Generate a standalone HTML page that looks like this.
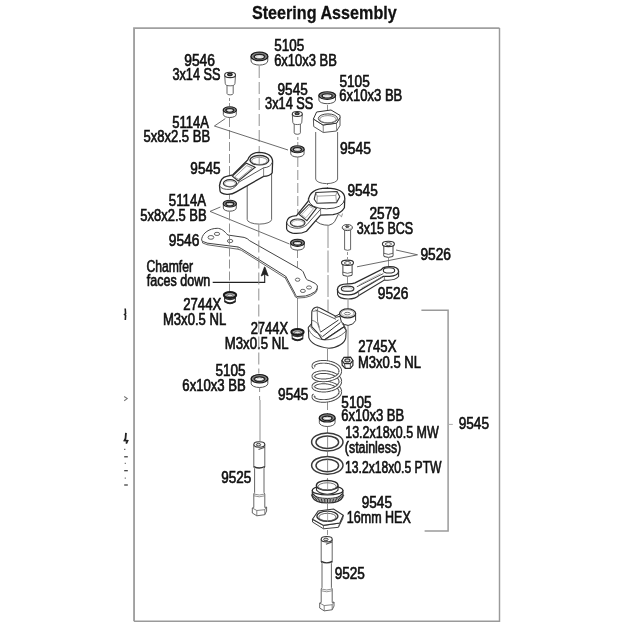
<!DOCTYPE html>
<html><head><meta charset="utf-8"><style>
html,body{margin:0;padding:0;background:#fff;width:625px;height:625px;overflow:hidden}
svg{display:block;will-change:transform}
text{font-family:"Liberation Sans",sans-serif}
</style></head><body>
<svg width="625" height="625" viewBox="0 0 625 625">
<rect width="625" height="625" fill="#fff"/>
<path d="M134.05,621.3 L134.05,28.1 L499.5,28.1" fill="none" stroke="#a0a0a0" stroke-width="1.9"/>
<path d="M499.5,28.1 L499.5,621.3 L134.05,621.3" fill="none" stroke="#9a9a9a" stroke-width="1.45"/>
<text transform="translate(251.93,19.20) scale(0.8414,1)" font-size="19.2" font-weight="bold" fill="#111" stroke="#111" stroke-width="0.3">Steering Assembly</text>
<line x1="229.5" y1="98" x2="229.5" y2="106" stroke="#858585" stroke-width="0.9" stroke-dasharray="3,2"/>
<line x1="229.5" y1="118" x2="229.5" y2="200" stroke="#858585" stroke-width="0.9" stroke-dasharray="9,3"/>
<line x1="259.2" y1="66" x2="259.2" y2="153" stroke="#858585" stroke-width="0.9" stroke-dasharray="12,4"/>
<line x1="259.6" y1="387" x2="259.6" y2="400" stroke="#858585" stroke-width="0.9" stroke-dasharray="5,4"/>
<line x1="260" y1="400" x2="260" y2="441" stroke="#858585" stroke-width="0.9"/>
<line x1="297.8" y1="137" x2="297.8" y2="145" stroke="#858585" stroke-width="0.9" stroke-dasharray="3,2"/>
<line x1="297.8" y1="157" x2="297.8" y2="216" stroke="#858585" stroke-width="0.9" stroke-dasharray="10,3"/>
<line x1="297.5" y1="250" x2="297.5" y2="279" stroke="#858585" stroke-width="0.9" stroke-dasharray="8,3"/>
<line x1="297.5" y1="282" x2="297.5" y2="328" stroke="#858585" stroke-width="0.9"/>
<line x1="327.5" y1="105" x2="327.5" y2="111" stroke="#858585" stroke-width="0.9"/>
<line x1="327.5" y1="182" x2="327.5" y2="190" stroke="#858585" stroke-width="0.9" stroke-dasharray="3,2"/>
<line x1="328" y1="226" x2="328" y2="312" stroke="#858585" stroke-width="0.9" stroke-dasharray="22,2.5"/>
<line x1="327.5" y1="349" x2="327.5" y2="361" stroke="#858585" stroke-width="0.9"/>
<line x1="327.5" y1="400" x2="327.5" y2="535" stroke="#858585" stroke-width="0.9" stroke-dasharray="10,3"/>
<line x1="347.5" y1="252" x2="347.5" y2="259" stroke="#858585" stroke-width="0.9" stroke-dasharray="3,2"/>
<line x1="347.5" y1="277" x2="347.5" y2="284" stroke="#858585" stroke-width="0.9"/>
<line x1="348" y1="300" x2="348" y2="310" stroke="#858585" stroke-width="0.9"/>
<line x1="348" y1="325" x2="348" y2="357" stroke="#858585" stroke-width="0.9"/>
<line x1="388.5" y1="258" x2="388.5" y2="267" stroke="#858585" stroke-width="0.9"/>
<line x1="214.4" y1="126" x2="225.3" y2="118.6" stroke="#5a5a5a" stroke-width="0.9"/>
<line x1="214.4" y1="126" x2="288" y2="150" stroke="#5a5a5a" stroke-width="0.9"/>
<line x1="210" y1="211.4" x2="220.4" y2="207" stroke="#5a5a5a" stroke-width="0.9"/>
<line x1="210" y1="211.4" x2="289.5" y2="244" stroke="#5a5a5a" stroke-width="0.9"/>
<line x1="417.5" y1="254.8" x2="396" y2="250" stroke="#5a5a5a" stroke-width="0.9"/>
<line x1="417.5" y1="254.8" x2="357" y2="266.8" stroke="#5a5a5a" stroke-width="0.9"/>
<path d="M212.7,282.4 L264.7,282.4 L264.7,272" stroke="#222" stroke-width="1.1" fill="none" />
<path d="M264.7,266.5 L261.2,276 L264.7,274 L268.2,276 Z" stroke="#222" stroke-width="0.8" fill="#222" />
<path d="M421.4,310.2 L448.1,310.2 L448.1,531 L424.6,531" stroke="#9a9a9a" stroke-width="1.5" fill="none" />
<line x1="448.8" y1="424.4" x2="452.8" y2="424.4" stroke="#aaa" stroke-width="1.0"/>
<text transform="translate(184.25,65.80) scale(0.8750,1)" font-size="15.8" font-weight="normal" fill="#111" stroke="#111" stroke-width="0.65">9546</text>
<text transform="translate(172.42,80.00) scale(0.8048,1)" font-size="15.8" font-weight="normal" fill="#111" stroke="#111" stroke-width="0.65">3x14 SS</text>
<text transform="translate(274.26,50.90) scale(0.8507,1)" font-size="15.8" font-weight="normal" fill="#111" stroke="#111" stroke-width="0.65">5105</text>
<text transform="translate(274.14,66.00) scale(0.8211,1)" font-size="15.8" font-weight="normal" fill="#111" stroke="#111" stroke-width="0.65">6x10x3 BB</text>
<text transform="translate(277.56,95.40) scale(0.8594,1)" font-size="15.8" font-weight="normal" fill="#111" stroke="#111" stroke-width="0.65">9545</text>
<text transform="translate(265.11,109.20) scale(0.8082,1)" font-size="15.8" font-weight="normal" fill="#111" stroke="#111" stroke-width="0.65">3x14 SS</text>
<text transform="translate(339.45,86.70) scale(0.8626,1)" font-size="15.8" font-weight="normal" fill="#111" stroke="#111" stroke-width="0.65">5105</text>
<text transform="translate(339.34,101.00) scale(0.8237,1)" font-size="15.8" font-weight="normal" fill="#111" stroke="#111" stroke-width="0.65">6x10x3 BB</text>
<text transform="translate(172.28,127.90) scale(0.8240,1)" font-size="15.8" font-weight="normal" fill="#111" stroke="#111" stroke-width="0.65">5114A</text>
<text transform="translate(143.48,142.00) scale(0.8256,1)" font-size="15.8" font-weight="normal" fill="#111" stroke="#111" stroke-width="0.65">5x8x2.5 BB</text>
<text transform="translate(190.36,174.00) scale(0.8594,1)" font-size="15.8" font-weight="normal" fill="#111" stroke="#111" stroke-width="0.65">9545</text>
<text transform="translate(339.95,154.00) scale(0.8801,1)" font-size="15.8" font-weight="normal" fill="#111" stroke="#111" stroke-width="0.65">9545</text>
<text transform="translate(347.46,196.20) scale(0.8624,1)" font-size="15.8" font-weight="normal" fill="#111" stroke="#111" stroke-width="0.65">9545</text>
<text transform="translate(168.87,206.00) scale(0.8351,1)" font-size="15.8" font-weight="normal" fill="#111" stroke="#111" stroke-width="0.65">5114A</text>
<text transform="translate(140.28,220.70) scale(0.8218,1)" font-size="15.8" font-weight="normal" fill="#111" stroke="#111" stroke-width="0.65">5x8x2.5 BB</text>
<text transform="translate(369.51,218.90) scale(0.8659,1)" font-size="15.8" font-weight="normal" fill="#111" stroke="#111" stroke-width="0.65">2579</text>
<text transform="translate(356.82,233.50) scale(0.7936,1)" font-size="15.8" font-weight="normal" fill="#111" stroke="#111" stroke-width="0.65">3x15 BCS</text>
<text transform="translate(168.75,246.00) scale(0.8720,1)" font-size="15.8" font-weight="normal" fill="#111" stroke="#111" stroke-width="0.65">9546</text>
<text transform="translate(420.46,260.40) scale(0.8691,1)" font-size="15.8" font-weight="normal" fill="#111" stroke="#111" stroke-width="0.65">9526</text>
<text transform="translate(146.38,271.80) scale(0.7695,1)" font-size="15.8" font-weight="normal" fill="#111" stroke="#111" stroke-width="0.65">Chamfer</text>
<text transform="translate(146.82,286.10) scale(0.7931,1)" font-size="15.8" font-weight="normal" fill="#111" stroke="#111" stroke-width="0.65">faces down</text>
<text transform="translate(377.76,299.20) scale(0.8691,1)" font-size="15.8" font-weight="normal" fill="#111" stroke="#111" stroke-width="0.65">9526</text>
<text transform="translate(183.14,309.60) scale(0.8348,1)" font-size="15.8" font-weight="normal" fill="#111" stroke="#111" stroke-width="0.65">2744X</text>
<text transform="translate(162.93,325.30) scale(0.8286,1)" font-size="15.8" font-weight="normal" fill="#111" stroke="#111" stroke-width="0.65">M3x0.5 NL</text>
<text transform="translate(250.65,333.60) scale(0.8191,1)" font-size="15.8" font-weight="normal" fill="#111" stroke="#111" stroke-width="0.65">2744X</text>
<text transform="translate(224.82,348.80) scale(0.8340,1)" font-size="15.8" font-weight="normal" fill="#111" stroke="#111" stroke-width="0.65">M3x0.5 NL</text>
<text transform="translate(358.34,351.80) scale(0.8348,1)" font-size="15.8" font-weight="normal" fill="#111" stroke="#111" stroke-width="0.65">2745X</text>
<text transform="translate(357.93,368.00) scale(0.8260,1)" font-size="15.8" font-weight="normal" fill="#111" stroke="#111" stroke-width="0.65">M3x0.5 NL</text>
<text transform="translate(215.46,375.60) scale(0.8567,1)" font-size="15.8" font-weight="normal" fill="#111" stroke="#111" stroke-width="0.65">5105</text>
<text transform="translate(182.33,390.50) scale(0.8318,1)" font-size="15.8" font-weight="normal" fill="#111" stroke="#111" stroke-width="0.65">6x10x3 BB</text>
<text transform="translate(278.06,399.50) scale(0.8624,1)" font-size="15.8" font-weight="normal" fill="#111" stroke="#111" stroke-width="0.65">9545</text>
<text transform="translate(341.36,407.60) scale(0.8596,1)" font-size="15.8" font-weight="normal" fill="#111" stroke="#111" stroke-width="0.65">5105</text>
<text transform="translate(341.14,421.30) scale(0.8251,1)" font-size="15.8" font-weight="normal" fill="#111" stroke="#111" stroke-width="0.65">6x10x3 BB</text>
<text transform="translate(345.25,438.30) scale(0.7886,1)" font-size="15.8" font-weight="normal" fill="#111" stroke="#111" stroke-width="0.65">13.2x18x0.5 MW</text>
<text transform="translate(344.83,452.60) scale(0.7839,1)" font-size="15.8" font-weight="normal" fill="#111" stroke="#111" stroke-width="0.65">(stainless)</text>
<text transform="translate(458.66,429.20) scale(0.8624,1)" font-size="15.8" font-weight="normal" fill="#111" stroke="#111" stroke-width="0.65">9545</text>
<text transform="translate(345.07,472.60) scale(0.7690,1)" font-size="15.8" font-weight="normal" fill="#111" stroke="#111" stroke-width="0.65">13.2x18x0.5 PTW</text>
<text transform="translate(221.37,483.20) scale(0.8535,1)" font-size="15.8" font-weight="normal" fill="#111" stroke="#111" stroke-width="0.65">9525</text>
<text transform="translate(361.76,508.00) scale(0.8594,1)" font-size="15.8" font-weight="normal" fill="#111" stroke="#111" stroke-width="0.65">9545</text>
<text transform="translate(346.85,523.30) scale(0.7913,1)" font-size="15.8" font-weight="normal" fill="#111" stroke="#111" stroke-width="0.65">16mm HEX</text>
<text transform="translate(334.66,579.10) scale(0.8594,1)" font-size="15.8" font-weight="normal" fill="#111" stroke="#111" stroke-width="0.65">9525</text>
<path d="M251.04999999999998,56.4 L251.04999999999998,60.949999999999996 A8.35,4.15 0 0 0 267.75,60.949999999999996 L267.75,56.4" stroke="#555" stroke-width="1" fill="#fff" />
<ellipse cx="259.4" cy="56.4" rx="8.35" ry="4.15" stroke="#1a1a1a" stroke-width="1.5" fill="#6a6a6a"/>
<ellipse cx="259.4" cy="56.4" rx="7.180999999999999" ry="3.3200000000000003" stroke="#b0b0b0" stroke-width="0.6" fill="none"/>
<ellipse cx="259.4" cy="56.699999999999996" rx="5.01" ry="2.3240000000000003" stroke="#222" stroke-width="1.3" fill="#fff"/>
<ellipse cx="259.4" cy="57.0" rx="3.173" ry="1.245" stroke="#aaa" stroke-width="0.6" fill="none"/>
<path d="M318.9,95.60000000000001 L318.9,100.05 A8.3,3.6500000000000004 0 0 0 335.5,100.05 L335.5,95.60000000000001" stroke="#555" stroke-width="1" fill="#fff" />
<ellipse cx="327.2" cy="95.60000000000001" rx="8.3" ry="3.6500000000000004" stroke="#1a1a1a" stroke-width="1.5" fill="#6a6a6a"/>
<ellipse cx="327.2" cy="95.60000000000001" rx="7.138000000000001" ry="2.9200000000000004" stroke="#b0b0b0" stroke-width="0.6" fill="none"/>
<ellipse cx="327.2" cy="95.9" rx="4.98" ry="2.0440000000000005" stroke="#222" stroke-width="1.3" fill="#fff"/>
<ellipse cx="327.2" cy="96.2" rx="3.1540000000000004" ry="1.095" stroke="#aaa" stroke-width="0.6" fill="none"/>
<path d="M251.2,378.8 L251.2,383.55 A8.3,3.95 0 0 0 267.8,383.55 L267.8,378.8" stroke="#555" stroke-width="1" fill="#fff" />
<ellipse cx="259.5" cy="378.8" rx="8.3" ry="3.95" stroke="#1a1a1a" stroke-width="1.5" fill="#6a6a6a"/>
<ellipse cx="259.5" cy="378.8" rx="7.138000000000001" ry="3.16" stroke="#b0b0b0" stroke-width="0.6" fill="none"/>
<ellipse cx="259.5" cy="379.1" rx="4.98" ry="2.212" stroke="#222" stroke-width="1.3" fill="#fff"/>
<ellipse cx="259.5" cy="379.40000000000003" rx="3.1540000000000004" ry="1.185" stroke="#aaa" stroke-width="0.6" fill="none"/>
<path d="M319.34999999999997,417.95 L319.34999999999997,422.6 A7.85,3.9000000000000004 0 0 0 335.05,422.6 L335.05,417.95" stroke="#555" stroke-width="1" fill="#fff" />
<ellipse cx="327.2" cy="417.95" rx="7.85" ry="3.9000000000000004" stroke="#1a1a1a" stroke-width="1.5" fill="#6a6a6a"/>
<ellipse cx="327.2" cy="417.95" rx="6.7509999999999994" ry="3.1200000000000006" stroke="#b0b0b0" stroke-width="0.6" fill="none"/>
<ellipse cx="327.2" cy="418.25" rx="4.71" ry="2.1840000000000006" stroke="#222" stroke-width="1.3" fill="#fff"/>
<ellipse cx="327.2" cy="418.55" rx="2.983" ry="1.1700000000000002" stroke="#aaa" stroke-width="0.6" fill="none"/>
<path d="M223.35000000000002,110.05 L223.35000000000002,114.5 A6.45,3.0 0 0 0 236.25,114.5 L236.25,110.05" stroke="#555" stroke-width="1" fill="#fff" />
<ellipse cx="229.8" cy="110.05" rx="6.45" ry="3.0" stroke="#1a1a1a" stroke-width="1.5" fill="#6a6a6a"/>
<ellipse cx="229.8" cy="110.05" rx="5.547" ry="2.4000000000000004" stroke="#b0b0b0" stroke-width="0.6" fill="none"/>
<ellipse cx="229.8" cy="110.35" rx="3.87" ry="1.6800000000000002" stroke="#222" stroke-width="1.3" fill="#fff"/>
<ellipse cx="229.8" cy="110.64999999999999" rx="2.451" ry="0.8999999999999999" stroke="#aaa" stroke-width="0.6" fill="none"/>
<path d="M290.75,149.25 L290.75,153.7 A6.65,3.3 0 0 0 304.04999999999995,153.7 L304.04999999999995,149.25" stroke="#555" stroke-width="1" fill="#fff" />
<ellipse cx="297.4" cy="149.25" rx="6.65" ry="3.3" stroke="#1a1a1a" stroke-width="1.5" fill="#6a6a6a"/>
<ellipse cx="297.4" cy="149.25" rx="5.719" ry="2.64" stroke="#b0b0b0" stroke-width="0.6" fill="none"/>
<ellipse cx="297.4" cy="149.55" rx="3.99" ry="1.848" stroke="#222" stroke-width="1.3" fill="#fff"/>
<ellipse cx="297.4" cy="149.85" rx="2.527" ry="0.9899999999999999" stroke="#aaa" stroke-width="0.6" fill="none"/>
<path d="M223.35000000000002,203.70000000000002 L223.35000000000002,208.04999999999998 A6.45,3.15 0 0 0 236.25,208.04999999999998 L236.25,203.70000000000002" stroke="#555" stroke-width="1" fill="#fff" />
<ellipse cx="229.8" cy="203.70000000000002" rx="6.45" ry="3.15" stroke="#1a1a1a" stroke-width="1.5" fill="#6a6a6a"/>
<ellipse cx="229.8" cy="203.70000000000002" rx="5.547" ry="2.52" stroke="#b0b0b0" stroke-width="0.6" fill="none"/>
<ellipse cx="229.8" cy="204.00000000000003" rx="3.87" ry="1.764" stroke="#222" stroke-width="1.3" fill="#fff"/>
<ellipse cx="229.8" cy="204.3" rx="2.451" ry="0.945" stroke="#aaa" stroke-width="0.6" fill="none"/>
<path d="M290.75,242.85000000000002 L290.75,246.79999999999998 A6.75,3.3 0 0 0 304.25,246.79999999999998 L304.25,242.85000000000002" stroke="#555" stroke-width="1" fill="#fff" />
<ellipse cx="297.5" cy="242.85000000000002" rx="6.75" ry="3.3" stroke="#1a1a1a" stroke-width="1.5" fill="#6a6a6a"/>
<ellipse cx="297.5" cy="242.85000000000002" rx="5.805" ry="2.64" stroke="#b0b0b0" stroke-width="0.6" fill="none"/>
<ellipse cx="297.5" cy="243.15000000000003" rx="4.05" ry="1.848" stroke="#222" stroke-width="1.3" fill="#fff"/>
<ellipse cx="297.5" cy="243.45000000000002" rx="2.565" ry="0.9899999999999999" stroke="#aaa" stroke-width="0.6" fill="none"/>
<path d="M227.0,83.4 L227.0,93.4 Q227.0,94.9 230.1,94.9 Q233.2,94.9 233.2,93.4 L233.2,83.4" stroke="#555" stroke-width="0.9" fill="#fff" />
<path d="M224.7,74.9 L225.23999999999998,83.4 A4.86,2.43 0 0 0 234.96,83.4 L235.5,74.9" stroke="#555" stroke-width="0.9" fill="#fff" />
<ellipse cx="230.1" cy="74.9" rx="5.4" ry="2.7" stroke="#333" stroke-width="1.1" fill="#fff"/>
<ellipse cx="229.9" cy="74.5" rx="2.2680000000000002" ry="1.215" stroke="#222" stroke-width="1.2" fill="#666"/>
<path d="M294.2,122.3 L294.2,132.8 Q294.2,134.3 297.3,134.3 Q300.40000000000003,134.3 300.40000000000003,132.8 L300.40000000000003,122.3" stroke="#555" stroke-width="0.9" fill="#fff" />
<path d="M292.3,114.0 L292.8,122.3 A4.5,2.25 0 0 0 301.8,122.3 L302.3,114.0" stroke="#555" stroke-width="0.9" fill="#fff" />
<ellipse cx="297.3" cy="114.0" rx="5.0" ry="2.5" stroke="#333" stroke-width="1.1" fill="#fff"/>
<ellipse cx="297.1" cy="113.6" rx="2.1" ry="1.125" stroke="#222" stroke-width="1.2" fill="#666"/>
<path d="M315.7,132 L315.7,179 A10.9,4.6 0 0 0 337.6,179 L337.6,132" stroke="#555" stroke-width="0.9" fill="#fff" />
<path d="M313.4,119 L313.7,126.5 L323.3,132.5 L336.6,131 L340,125.5 L340,117.6 L336.5,123.2 L323.0,125.0 Z" stroke="#444" stroke-width="0.9" fill="#fff" />
<line x1="323.2" y1="125.0" x2="323.3" y2="132.5" stroke="#666" stroke-width="0.8"/>
<line x1="336.5" y1="123.2" x2="336.6" y2="131" stroke="#666" stroke-width="0.8"/>
<path d="M313.4,119 L316.6,112 L331,110 L340,115.4 L340,117.6 L336.5,123.2 L323.0,125.0 Z" stroke="#333" stroke-width="1" fill="#fff" />
<ellipse cx="327.9" cy="118.5" rx="9.6" ry="4.6" stroke="#444" stroke-width="1" fill="#fff"/>
<ellipse cx="327.9" cy="119.2" rx="8.2" ry="3.6" stroke="#777" stroke-width="0.8" fill="none"/>
<path d="M247.2,168 L247.2,219.5 A12.2,4.6 0 0 0 271.6,219.5 L271.6,168" stroke="#555" stroke-width="0.9" fill="#fff" />
<path d="M219.5,185.7 Q220.5,177.5 226.5,176.3 L232.9,174.8 L247.7,159.9 Q250.5,152.5 258.7,152.3 Q272.6,152.8 272.6,161.9 L272.2,172.8 Q269.5,176.2 263.6,176.4 L236.3,191.9 Q232,194.6 226.9,194.3 Q220,193.5 220,190.7 Z" stroke="#2a2a2a" stroke-width="1.3" fill="#fff" />
<path d="M238.8,182.2 L263.6,167.8 Q270.5,167.5 272.5,162" stroke="#444" stroke-width="0.9" fill="none" />
<line x1="263.6" y1="167.8" x2="263.6" y2="176.3" stroke="#666" stroke-width="0.8"/>
<path d="M219.6,186 Q222,189.8 229.9,189.4 Q235.5,188 238.8,182.2" stroke="#444" stroke-width="0.9" fill="none" />
<ellipse cx="259.4" cy="160.2" rx="9.4" ry="4.7" stroke="#333" stroke-width="1.4" fill="#fff"/>
<ellipse cx="259.4" cy="160.9" rx="7.8" ry="3.6" stroke="#777" stroke-width="0.8" fill="none"/>
<line x1="259.2" y1="155.5" x2="259.2" y2="164.5" stroke="#888" stroke-width="0.8"/>
<ellipse cx="230.0" cy="183.2" rx="6.6" ry="3.6" stroke="#333" stroke-width="1.2" fill="#fff"/>
<ellipse cx="230.0" cy="183.7" rx="5.4" ry="2.8" stroke="#888" stroke-width="0.6" fill="none"/>
<path d="M232.4,176.2 L246.3,163.2 L255.2,167.3 L238.3,181.0 Z" stroke="#333" stroke-width="1.1" fill="#fff" />
<path d="M234.5,177.2 L246.8,165.6 L252.3,168.0 L238.6,179.2 Z" stroke="#777" stroke-width="0.7" fill="none" />
<path d="M314.4,213 L314.6,219.5 Q319,225.3 328.8,225.3 Q333.5,224 334.8,221.3 L338.5,214" stroke="#444" stroke-width="0.9" fill="#fff" />
<path d="M338.5,214 L341.5,216.8 L342.5,213.5" stroke="#666" stroke-width="0.7" fill="#fff" />
<path d="M286.6,222.5 Q287.2,216 296.5,215.6 L308.2,201.2 Q309.5,188.3 326.6,188.2 Q344.8,188.5 344.8,198.7 L344.4,207.8 Q341,213.8 333,214.6 L320.6,215.2 L306.5,231.2 Q300.5,234.2 292.5,233.2 Q286.8,231.5 286.6,228.5 Z" stroke="#2a2a2a" stroke-width="1.25" fill="#fff" />
<path d="M308.2,198.7 Q309.5,208.8 326.6,208.8 Q343.5,208.5 344.8,198.7" stroke="#444" stroke-width="1.0" fill="none" />
<line x1="320.6" y1="209" x2="320.6" y2="215.2" stroke="#666" stroke-width="0.8"/>
<path d="M314.2,199.2 L315.8,192.5 L337,191.5 L339.8,196.8 L336.5,202.6 L317,203.2 Z" stroke="#333" stroke-width="1.1" fill="#fff" />
<path d="M315.8,192.5 L317.2,196.2 L335.8,195.4 L337,191.5 M317.2,196.2 L317,203.2 M335.8,195.4 L336.5,202.6" stroke="#777" stroke-width="0.7" fill="none" />
<path d="M286.7,223 Q289,228.4 298.5,228.3 Q305.5,227.5 309.2,222 L320.6,209.2" stroke="#444" stroke-width="0.9" fill="none" />
<ellipse cx="297.7" cy="222.8" rx="7.3" ry="3.8" stroke="#333" stroke-width="1.2" fill="#fff"/>
<ellipse cx="297.7" cy="223.4" rx="6.0" ry="3.0" stroke="#888" stroke-width="0.6" fill="none"/>
<path d="M299.2,214.4 L308.9,204.4 L316.5,208.2 L306.9,220.6 Z" stroke="#333" stroke-width="1.1" fill="#fff" />
<path d="M301.5,214.8 L309.4,206.5 L313.6,208.6 L305.8,217.8 Z" stroke="#888" stroke-width="0.6" fill="none" />
<path d="M202.3,241.3 L202.6,243 L207.6,244.8 L237.8,249.2 L241.2,250.2 L285.3,278 L294.3,294.5 Q295,297.8 297.5,298 L305.4,297.5 Q311,296.5 315.6,292.8 L317.4,289.5 L317.2,288.1" stroke="#555" stroke-width="0.9" fill="#fff" />
<path d="M201.8,238.4 C203,233 209,228.5 217.2,228.3 C221,228.3 224.5,231 227.8,235 L244.1,237.4 Q247.5,238.3 249.8,240.8 L299.8,269.1 Q302.5,270.5 303.2,271.9 L306,278.6 Q307.5,280.5 309.9,280.8 L315.5,283.6 Q318.5,286 317.2,288.1 L315.5,291.5 Q310,295 305.4,296 L297,296.5 Q295,295.5 294.8,293.2 L285.8,276.4 L241.2,248.5 L238.3,247 L207.6,243.2 L202.3,241.3 Q201.2,240 201.8,238.4 Z" stroke="#444" stroke-width="1" fill="#fff" />
<line x1="207.6" y1="243.2" x2="207.6" y2="244.8" stroke="#666" stroke-width="0.7"/>
<line x1="238.3" y1="247" x2="237.8" y2="249.2" stroke="#666" stroke-width="0.7"/>
<line x1="285.8" y1="276.4" x2="285.3" y2="278" stroke="#666" stroke-width="0.7"/>
<ellipse cx="210.9" cy="237.4" rx="2.9" ry="1.9" stroke="#555" stroke-width="0.9" fill="#fff"/>
<ellipse cx="217.0" cy="233.9" rx="2.7" ry="1.6" stroke="#555" stroke-width="0.9" fill="#fff"/>
<ellipse cx="230.1" cy="241.0" rx="2.8" ry="1.6" stroke="#555" stroke-width="0.9" fill="#fff"/>
<ellipse cx="297.6" cy="279.7" rx="2.3" ry="1.6" stroke="#555" stroke-width="0.9" fill="#fff"/>
<ellipse cx="302.9" cy="290.9" rx="2.5" ry="1.6" stroke="#555" stroke-width="0.9" fill="#fff"/>
<ellipse cx="309.0" cy="287.5" rx="2.5" ry="1.6" stroke="#555" stroke-width="0.9" fill="#fff"/>
<line x1="229.5" y1="211.5" x2="229.5" y2="291.5" stroke="#858585" stroke-width="0.9" stroke-dasharray="9,3"/>
<line x1="258.8" y1="224.5" x2="258.8" y2="373.5" stroke="#858585" stroke-width="0.9" stroke-dasharray="12,4"/>
<path d="M344.6,229.2 L344.6,249.6 Q347.6,251 350.6,249.6 L350.6,229.2" stroke="#555" stroke-width="0.9" fill="#fff" />
<path d="M342.2,228.2 Q342,224.6 347.3,224.6 Q352.6,224.6 352.4,228.2 Q351.5,230.6 347.3,230.6 Q343,230.6 342.2,228.2 Z" stroke="#444" stroke-width="1.0" fill="#fff" />
<path d="M342.3,227.8 Q344,229.2 347.3,229.2 Q350.6,229.2 352.3,227.8" stroke="#888" stroke-width="0.6" fill="none" />
<ellipse cx="347.3" cy="226.6" rx="1.7" ry="0.9" stroke="#333" stroke-width="0.9" fill="#666"/>
<path d="M342.9,264.3 L342.9,272.0 Q342.5,273.3 343.1,275.40000000000003 Q347.5,277.2 351.9,275.40000000000003 Q352.5,273.3 352.1,272.0 L352.1,264.3" stroke="#444" stroke-width="1.0" fill="#fff" />
<path d="M342.9,272.2 Q347.5,274.40000000000003 352.1,272.2" stroke="#555" stroke-width="0.9" fill="none" />
<ellipse cx="347.5" cy="262.8" rx="6.0" ry="2.7" stroke="#333" stroke-width="1.1" fill="#fff"/>
<ellipse cx="347.5" cy="263.0" rx="3.0" ry="1.5" stroke="#555" stroke-width="1.0" fill="#fff"/>
<path d="M383.79999999999995,245.4 L383.79999999999995,253.1 Q383.4,254.4 384.0,256.5 Q388.4,258.3 392.79999999999995,256.5 Q393.4,254.4 393.0,253.1 L393.0,245.4" stroke="#444" stroke-width="1.0" fill="#fff" />
<path d="M383.79999999999995,253.3 Q388.4,255.5 393.0,253.3" stroke="#555" stroke-width="0.9" fill="none" />
<ellipse cx="388.4" cy="243.9" rx="6.0" ry="2.7" stroke="#333" stroke-width="1.1" fill="#fff"/>
<ellipse cx="388.4" cy="244.1" rx="3.0" ry="1.5" stroke="#555" stroke-width="1.0" fill="#fff"/>
<path d="M337.4,289.4 L337.6,294.5 Q339,299 348.2,299 Q355.5,299 358.8,295.5 L384.4,280 Q394.5,281 398.6,276.5 L398.6,271.5" stroke="#333" stroke-width="1.1" fill="#fff" />
<path d="M337.4,289.4 Q337.6,284 348.2,283.9 Q352.5,283.9 355,282.8 L381.5,269.5 Q383,266.6 389.9,266.6 Q398.6,266.6 398.6,271.5 Q398,275.8 389.5,276.4 L383.3,276.4 L358.8,291 Q355,294.9 348.2,294.9 Q337.6,294.9 337.4,289.4 Z" stroke="#2a2a2a" stroke-width="1.3" fill="#fff" />
<ellipse cx="347.6" cy="288.8" rx="6.3" ry="2.6" stroke="#333" stroke-width="1.2" fill="#fff"/>
<ellipse cx="347.6" cy="289.3" rx="4.8" ry="1.8" stroke="#999" stroke-width="0.6" fill="none"/>
<ellipse cx="389.0" cy="270.4" rx="5.7" ry="2.6" stroke="#333" stroke-width="1.1" fill="#fff"/>
<path d="M356.8,286.8 L383.3,273.6" stroke="#444" stroke-width="0.9" fill="none" />
<path d="M359.5,284.6 L380.5,273.5 M361.5,288 L382.2,277.2" stroke="#888" stroke-width="0.6" fill="none" />
<line x1="384.4" y1="276.4" x2="384.4" y2="280" stroke="#666" stroke-width="0.8"/>
<line x1="358.6" y1="291.2" x2="358.6" y2="295.5" stroke="#666" stroke-width="0.8"/>
<path d="M224.4,295.4 L224.8,301.9 Q230.0,305.59999999999997 235.2,301.9 L235.6,295.4" stroke="#333" stroke-width="1.1" fill="#fff" />
<path d="M224.7,301.2 Q230.0,305.0 235.3,301.2" stroke="#222" stroke-width="1.6" fill="none" />
<path d="M224.5,297.9 Q230.0,301.2 235.5,297.9" stroke="#333" stroke-width="1.4" fill="none" />
<ellipse cx="230.0" cy="295.09999999999997" rx="6.2" ry="3.0" stroke="#1a1a1a" stroke-width="2.0" fill="#aaa"/>
<ellipse cx="230.0" cy="295.4" rx="2.8" ry="1.3" stroke="#555" stroke-width="0.8" fill="#e0e0e0"/>
<path d="M291.9,332.4 L292.3,338.9 Q297.5,342.59999999999997 302.7,338.9 L303.1,332.4" stroke="#333" stroke-width="1.1" fill="#fff" />
<path d="M292.2,338.2 Q297.5,342.0 302.8,338.2" stroke="#222" stroke-width="1.6" fill="none" />
<path d="M292.0,334.9 Q297.5,338.2 303.0,334.9" stroke="#333" stroke-width="1.4" fill="none" />
<ellipse cx="297.5" cy="332.09999999999997" rx="6.2" ry="3.0" stroke="#1a1a1a" stroke-width="2.0" fill="#aaa"/>
<ellipse cx="297.5" cy="332.4" rx="2.8" ry="1.3" stroke="#555" stroke-width="0.8" fill="#e0e0e0"/>
<path d="M308.3,327.5 L308.8,337.6 C310.5,342.5 317,346.8 328.9,348.2 C338,347.8 344.8,343 345.7,337.9 L346.2,330.5 L342,324 L313,322 Z" stroke="#333" stroke-width="1.1" fill="#fff" />
<path d="M308.4,328.5 C310.5,334.5 316,338.8 322.7,339.6 C331,340.8 340.5,337.2 346.1,330.8" stroke="#555" stroke-width="0.9" fill="none" />
<path d="M310.2,325.6 C312,330 315,332.3 317.8,333" stroke="#666" stroke-width="0.8" fill="none" />
<path d="M311.6,325 L311.8,312 Q312.2,308.8 315.2,307.5 L317.2,307 Q318.8,307.2 320,308 L334.7,315.8 L340,316.2 L344.5,326.5 L325,339.6 L322.2,339.4 L317.8,333 L311.9,327 Z" stroke="#333" stroke-width="1.1" fill="#fff" />
<path d="M315.6,309.9 L336,319.3" stroke="#444" stroke-width="0.9" fill="none" />
<path d="M313.1,311.3 L317.2,310.6 L318,308 M317.2,310.6 L317.6,321.5 L319.4,327.6" stroke="#555" stroke-width="0.8" fill="none" />
<path d="M311.8,320.2 Q315,320.8 317.5,323.5 L320.6,332.1" stroke="#666" stroke-width="0.8" fill="none" />
<path d="M320.6,332.1 L338.5,320 M322.5,336.6 L340.4,322.5 M325,339.2 L344.3,326.4" stroke="#333" stroke-width="1.0" fill="none" />
<path d="M317.8,333 L322.5,336.6" stroke="#555" stroke-width="0.8" fill="none" />
<path d="M334.7,316.8 L336.1,317.3 L340,316.3 L341.4,322.1 Q344.5,325.4 348.1,325.4 Q353.5,325 355.6,320.6 L355.6,313.7 L340,313.7 Z" stroke="#333" stroke-width="1.0" fill="#fff" />
<path d="M341.8,323.6 L345.2,326.9 L346.2,330.5" stroke="#555" stroke-width="0.8" fill="none" />
<ellipse cx="347.6" cy="313.4" rx="8.0" ry="4.5" stroke="#2a2a2a" stroke-width="1.3" fill="#fff"/>
<ellipse cx="347.6" cy="313.2" rx="6.3" ry="3.4" stroke="#888" stroke-width="0.7" fill="none"/>
<ellipse cx="347.3" cy="313.6" rx="3.0" ry="1.3" stroke="#666" stroke-width="0.9" fill="#fff"/>
<path d="M341.9,360.5 L342.2,365.3 L345.3,368.3 L350.3,368.3 L352.9,365.3 L352.9,360.5" stroke="#2a2a2a" stroke-width="1.2" fill="#fff" />
<path d="M341.9,360.5 L344,357.3 L350.6,357.1 L352.9,360.5 L350.4,363.6 L344.4,363.6 Z" stroke="#2a2a2a" stroke-width="1.2" fill="#fff" />
<ellipse cx="347.4" cy="360.4" rx="2.6" ry="1.5" stroke="#333" stroke-width="1.1" fill="#ddd"/>
<line x1="344.4" y1="363.6" x2="345.3" y2="368.3" stroke="#444" stroke-width="0.9"/>
<line x1="350.4" y1="363.6" x2="350.3" y2="368.3" stroke="#444" stroke-width="0.9"/>
<path d="M313.30,365.93 L313.32,365.67 L313.37,365.42 L313.47,365.17 L313.60,364.92 L313.76,364.67 L313.96,364.43 L314.20,364.20 L314.47,363.97 L314.77,363.75 L315.11,363.53 L315.48,363.33 L315.88,363.13 L316.31,362.95 L316.77,362.78 L317.25,362.62 L317.77,362.47 L318.30,362.33 L318.86,362.21 L319.45,362.10 L320.05,362.01 L320.67,361.94 L321.31,361.88 L321.96,361.83 L322.63,361.80 L323.31,361.79 L323.99,361.80 L324.69,361.82 L325.39,361.86 L326.09,361.92 L326.80,362.00 L327.51,362.09 L328.21,362.21 L328.91,362.34 L329.61,362.49 L330.29,362.65 L330.97,362.83 L331.64,363.03 L332.29,363.25 L332.93,363.48 L333.55,363.73 L334.15,363.99 L334.74,364.27 L335.30,364.56 L335.83,364.87 L336.35,365.19 L336.83,365.52 L337.29,365.87 L337.72,366.22 L338.12,366.59 L338.49,366.97 L338.83,367.35 L339.13,367.74 L339.40,368.14 L339.64,368.55 L339.84,368.96 L340.00,369.38 L340.13,369.80 L340.23,370.22 L340.28,370.65 L340.30,371.07" stroke="#4a4a4a" stroke-width="3.6" fill="none" stroke-linecap="butt"/>
<path d="M313.30,365.93 L313.32,365.67 L313.37,365.42 L313.47,365.17 L313.60,364.92 L313.76,364.67 L313.96,364.43 L314.20,364.20 L314.47,363.97 L314.77,363.75 L315.11,363.53 L315.48,363.33 L315.88,363.13 L316.31,362.95 L316.77,362.78 L317.25,362.62 L317.77,362.47 L318.30,362.33 L318.86,362.21 L319.45,362.10 L320.05,362.01 L320.67,361.94 L321.31,361.88 L321.96,361.83 L322.63,361.80 L323.31,361.79 L323.99,361.80 L324.69,361.82 L325.39,361.86 L326.09,361.92 L326.80,362.00 L327.51,362.09 L328.21,362.21 L328.91,362.34 L329.61,362.49 L330.29,362.65 L330.97,362.83 L331.64,363.03 L332.29,363.25 L332.93,363.48 L333.55,363.73 L334.15,363.99 L334.74,364.27 L335.30,364.56 L335.83,364.87 L336.35,365.19 L336.83,365.52 L337.29,365.87 L337.72,366.22 L338.12,366.59 L338.49,366.97 L338.83,367.35 L339.13,367.74 L339.40,368.14 L339.64,368.55 L339.84,368.96 L340.00,369.38 L340.13,369.80 L340.23,370.22 L340.28,370.65 L340.30,371.07" stroke="#fff" stroke-width="1.7" fill="none" stroke-linecap="butt"/>
<path d="M313.30,376.23 L313.32,375.97 L313.37,375.72 L313.47,375.47 L313.60,375.22 L313.76,374.97 L313.96,374.73 L314.20,374.50 L314.47,374.27 L314.77,374.05 L315.11,373.83 L315.48,373.63 L315.88,373.43 L316.31,373.25 L316.77,373.08 L317.25,372.92 L317.77,372.77 L318.30,372.63 L318.86,372.51 L319.45,372.40 L320.05,372.31 L320.67,372.24 L321.31,372.18 L321.96,372.13 L322.63,372.10 L323.31,372.09 L323.99,372.10 L324.69,372.12 L325.39,372.16 L326.09,372.22 L326.80,372.30 L327.51,372.39 L328.21,372.51 L328.91,372.64 L329.61,372.79 L330.29,372.95 L330.97,373.13 L331.64,373.33 L332.29,373.55 L332.93,373.78 L333.55,374.03 L334.15,374.29 L334.74,374.57 L335.30,374.86 L335.83,375.17 L336.35,375.49 L336.83,375.82 L337.29,376.17 L337.72,376.52 L338.12,376.89 L338.49,377.27 L338.83,377.65 L339.13,378.04 L339.40,378.44 L339.64,378.85 L339.84,379.26 L340.00,379.68 L340.13,380.10 L340.23,380.52 L340.28,380.95 L340.30,381.38" stroke="#4a4a4a" stroke-width="3.6" fill="none" stroke-linecap="butt"/>
<path d="M313.30,376.23 L313.32,375.97 L313.37,375.72 L313.47,375.47 L313.60,375.22 L313.76,374.97 L313.96,374.73 L314.20,374.50 L314.47,374.27 L314.77,374.05 L315.11,373.83 L315.48,373.63 L315.88,373.43 L316.31,373.25 L316.77,373.08 L317.25,372.92 L317.77,372.77 L318.30,372.63 L318.86,372.51 L319.45,372.40 L320.05,372.31 L320.67,372.24 L321.31,372.18 L321.96,372.13 L322.63,372.10 L323.31,372.09 L323.99,372.10 L324.69,372.12 L325.39,372.16 L326.09,372.22 L326.80,372.30 L327.51,372.39 L328.21,372.51 L328.91,372.64 L329.61,372.79 L330.29,372.95 L330.97,373.13 L331.64,373.33 L332.29,373.55 L332.93,373.78 L333.55,374.03 L334.15,374.29 L334.74,374.57 L335.30,374.86 L335.83,375.17 L336.35,375.49 L336.83,375.82 L337.29,376.17 L337.72,376.52 L338.12,376.89 L338.49,377.27 L338.83,377.65 L339.13,378.04 L339.40,378.44 L339.64,378.85 L339.84,379.26 L340.00,379.68 L340.13,380.10 L340.23,380.52 L340.28,380.95 L340.30,381.38" stroke="#fff" stroke-width="1.7" fill="none" stroke-linecap="butt"/>
<path d="M313.30,386.52 L313.32,386.27 L313.37,386.02 L313.47,385.77 L313.60,385.52 L313.76,385.27 L313.96,385.03 L314.20,384.80 L314.47,384.57 L314.77,384.35 L315.11,384.13 L315.48,383.93 L315.88,383.73 L316.31,383.55 L316.77,383.38 L317.25,383.22 L317.77,383.07 L318.30,382.93 L318.86,382.81 L319.45,382.70 L320.05,382.61 L320.67,382.54 L321.31,382.48 L321.96,382.43 L322.63,382.40 L323.31,382.39 L323.99,382.40 L324.69,382.42 L325.39,382.46 L326.09,382.52 L326.80,382.60 L327.51,382.69 L328.21,382.81 L328.91,382.94 L329.61,383.09 L330.29,383.25 L330.97,383.43 L331.64,383.63 L332.29,383.85 L332.93,384.08 L333.55,384.33 L334.15,384.59 L334.74,384.87 L335.30,385.16 L335.83,385.47 L336.35,385.79 L336.83,386.12 L337.29,386.47 L337.72,386.82 L338.12,387.19 L338.49,387.57 L338.83,387.95 L339.13,388.34 L339.40,388.74 L339.64,389.15 L339.84,389.56 L340.00,389.98 L340.13,390.40 L340.23,390.82 L340.28,391.25 L340.30,391.68" stroke="#4a4a4a" stroke-width="3.6" fill="none" stroke-linecap="butt"/>
<path d="M313.30,386.52 L313.32,386.27 L313.37,386.02 L313.47,385.77 L313.60,385.52 L313.76,385.27 L313.96,385.03 L314.20,384.80 L314.47,384.57 L314.77,384.35 L315.11,384.13 L315.48,383.93 L315.88,383.73 L316.31,383.55 L316.77,383.38 L317.25,383.22 L317.77,383.07 L318.30,382.93 L318.86,382.81 L319.45,382.70 L320.05,382.61 L320.67,382.54 L321.31,382.48 L321.96,382.43 L322.63,382.40 L323.31,382.39 L323.99,382.40 L324.69,382.42 L325.39,382.46 L326.09,382.52 L326.80,382.60 L327.51,382.69 L328.21,382.81 L328.91,382.94 L329.61,383.09 L330.29,383.25 L330.97,383.43 L331.64,383.63 L332.29,383.85 L332.93,384.08 L333.55,384.33 L334.15,384.59 L334.74,384.87 L335.30,385.16 L335.83,385.47 L336.35,385.79 L336.83,386.12 L337.29,386.47 L337.72,386.82 L338.12,387.19 L338.49,387.57 L338.83,387.95 L339.13,388.34 L339.40,388.74 L339.64,389.15 L339.84,389.56 L340.00,389.98 L340.13,390.40 L340.23,390.82 L340.28,391.25 L340.30,391.68" stroke="#fff" stroke-width="1.7" fill="none" stroke-linecap="butt"/>
<path d="M313.30,396.82 L313.30,396.79 L313.30,396.76 L313.30,396.73 L313.30,396.70 L313.31,396.67 L313.31,396.64 L313.31,396.61 L313.32,396.58 L313.32,396.55 L313.33,396.52 L313.33,396.49 L313.34,396.46 L313.35,396.43 L313.35,396.40 L313.36,396.37 L313.37,396.34 L313.38,396.31 L313.39,396.28 L313.40,396.25 L313.41,396.22 L313.42,396.19 L313.43,396.16 L313.44,396.13 L313.45,396.10 L313.47,396.07 L313.48,396.04 L313.49,396.01 L313.51,395.98 L313.52,395.95 L313.54,395.92 L313.56,395.89 L313.57,395.86 L313.59,395.83 L313.61,395.80 L313.63,395.77 L313.64,395.74 L313.66,395.71 L313.68,395.68 L313.70,395.65 L313.72,395.62 L313.75,395.59 L313.77,395.56 L313.79,395.53 L313.81,395.50 L313.84,395.48 L313.86,395.45 L313.88,395.42 L313.91,395.39 L313.93,395.36 L313.96,395.33 L313.99,395.30 L314.01,395.27 L314.04,395.25 L314.07,395.22 L314.10,395.19 L314.13,395.16 L314.16,395.13 L314.19,395.11 L314.22,395.08 L314.25,395.05" stroke="#4a4a4a" stroke-width="3.6" fill="none" stroke-linecap="butt"/>
<path d="M313.30,396.82 L313.30,396.79 L313.30,396.76 L313.30,396.73 L313.30,396.70 L313.31,396.67 L313.31,396.64 L313.31,396.61 L313.32,396.58 L313.32,396.55 L313.33,396.52 L313.33,396.49 L313.34,396.46 L313.35,396.43 L313.35,396.40 L313.36,396.37 L313.37,396.34 L313.38,396.31 L313.39,396.28 L313.40,396.25 L313.41,396.22 L313.42,396.19 L313.43,396.16 L313.44,396.13 L313.45,396.10 L313.47,396.07 L313.48,396.04 L313.49,396.01 L313.51,395.98 L313.52,395.95 L313.54,395.92 L313.56,395.89 L313.57,395.86 L313.59,395.83 L313.61,395.80 L313.63,395.77 L313.64,395.74 L313.66,395.71 L313.68,395.68 L313.70,395.65 L313.72,395.62 L313.75,395.59 L313.77,395.56 L313.79,395.53 L313.81,395.50 L313.84,395.48 L313.86,395.45 L313.88,395.42 L313.91,395.39 L313.93,395.36 L313.96,395.33 L313.99,395.30 L314.01,395.27 L314.04,395.25 L314.07,395.22 L314.10,395.19 L314.13,395.16 L314.16,395.13 L314.19,395.11 L314.22,395.08 L314.25,395.05" stroke="#fff" stroke-width="1.7" fill="none" stroke-linecap="butt"/>
<path d="M314.25,367.70 L314.22,367.67 L314.19,367.64 L314.16,367.62 L314.13,367.59 L314.10,367.56 L314.07,367.53 L314.04,367.50 L314.01,367.48 L313.99,367.45 L313.96,367.42 L313.93,367.39 L313.91,367.36 L313.88,367.33 L313.86,367.30 L313.84,367.27 L313.81,367.25 L313.79,367.22 L313.77,367.19 L313.75,367.16 L313.72,367.13 L313.70,367.10 L313.68,367.07 L313.66,367.04 L313.64,367.01 L313.63,366.98 L313.61,366.95 L313.59,366.92 L313.57,366.89 L313.56,366.86 L313.54,366.83 L313.52,366.80 L313.51,366.77 L313.49,366.74 L313.48,366.71 L313.47,366.68 L313.45,366.65 L313.44,366.62 L313.43,366.59 L313.42,366.56 L313.41,366.53 L313.40,366.50 L313.39,366.47 L313.38,366.44 L313.37,366.41 L313.36,366.38 L313.35,366.35 L313.35,366.32 L313.34,366.29 L313.33,366.26 L313.33,366.23 L313.32,366.20 L313.32,366.17 L313.31,366.14 L313.31,366.11 L313.31,366.08 L313.30,366.05 L313.30,366.02 L313.30,365.99 L313.30,365.96 L313.30,365.93" stroke="#4a4a4a" stroke-width="3.6" fill="none" stroke-linecap="butt"/>
<path d="M314.25,367.70 L314.22,367.67 L314.19,367.64 L314.16,367.62 L314.13,367.59 L314.10,367.56 L314.07,367.53 L314.04,367.50 L314.01,367.48 L313.99,367.45 L313.96,367.42 L313.93,367.39 L313.91,367.36 L313.88,367.33 L313.86,367.30 L313.84,367.27 L313.81,367.25 L313.79,367.22 L313.77,367.19 L313.75,367.16 L313.72,367.13 L313.70,367.10 L313.68,367.07 L313.66,367.04 L313.64,367.01 L313.63,366.98 L313.61,366.95 L313.59,366.92 L313.57,366.89 L313.56,366.86 L313.54,366.83 L313.52,366.80 L313.51,366.77 L313.49,366.74 L313.48,366.71 L313.47,366.68 L313.45,366.65 L313.44,366.62 L313.43,366.59 L313.42,366.56 L313.41,366.53 L313.40,366.50 L313.39,366.47 L313.38,366.44 L313.37,366.41 L313.36,366.38 L313.35,366.35 L313.35,366.32 L313.34,366.29 L313.33,366.26 L313.33,366.23 L313.32,366.20 L313.32,366.17 L313.31,366.14 L313.31,366.11 L313.31,366.08 L313.30,366.05 L313.30,366.02 L313.30,365.99 L313.30,365.96 L313.30,365.93" stroke="#fff" stroke-width="1.7" fill="none" stroke-linecap="butt"/>
<path d="M340.30,371.07 L340.28,371.50 L340.23,371.93 L340.13,372.35 L340.00,372.77 L339.84,373.19 L339.64,373.60 L339.40,374.01 L339.13,374.41 L338.83,374.80 L338.49,375.18 L338.12,375.56 L337.72,375.93 L337.29,376.28 L336.83,376.63 L336.35,376.96 L335.83,377.28 L335.30,377.59 L334.74,377.88 L334.15,378.16 L333.55,378.42 L332.93,378.67 L332.29,378.90 L331.64,379.12 L330.97,379.32 L330.29,379.50 L329.61,379.66 L328.91,379.81 L328.21,379.94 L327.51,380.06 L326.80,380.15 L326.09,380.23 L325.39,380.29 L324.69,380.33 L323.99,380.35 L323.31,380.36 L322.63,380.35 L321.96,380.32 L321.31,380.27 L320.67,380.21 L320.05,380.14 L319.45,380.05 L318.86,379.94 L318.30,379.82 L317.77,379.68 L317.25,379.53 L316.77,379.37 L316.31,379.20 L315.88,379.02 L315.48,378.82 L315.11,378.62 L314.77,378.40 L314.47,378.18 L314.20,377.95 L313.96,377.72 L313.76,377.48 L313.60,377.23 L313.47,376.98 L313.37,376.73 L313.32,376.48 L313.30,376.23" stroke="#4a4a4a" stroke-width="3.6" fill="none" stroke-linecap="butt"/>
<path d="M340.30,371.07 L340.28,371.50 L340.23,371.93 L340.13,372.35 L340.00,372.77 L339.84,373.19 L339.64,373.60 L339.40,374.01 L339.13,374.41 L338.83,374.80 L338.49,375.18 L338.12,375.56 L337.72,375.93 L337.29,376.28 L336.83,376.63 L336.35,376.96 L335.83,377.28 L335.30,377.59 L334.74,377.88 L334.15,378.16 L333.55,378.42 L332.93,378.67 L332.29,378.90 L331.64,379.12 L330.97,379.32 L330.29,379.50 L329.61,379.66 L328.91,379.81 L328.21,379.94 L327.51,380.06 L326.80,380.15 L326.09,380.23 L325.39,380.29 L324.69,380.33 L323.99,380.35 L323.31,380.36 L322.63,380.35 L321.96,380.32 L321.31,380.27 L320.67,380.21 L320.05,380.14 L319.45,380.05 L318.86,379.94 L318.30,379.82 L317.77,379.68 L317.25,379.53 L316.77,379.37 L316.31,379.20 L315.88,379.02 L315.48,378.82 L315.11,378.62 L314.77,378.40 L314.47,378.18 L314.20,377.95 L313.96,377.72 L313.76,377.48 L313.60,377.23 L313.47,376.98 L313.37,376.73 L313.32,376.48 L313.30,376.23" stroke="#fff" stroke-width="1.7" fill="none" stroke-linecap="butt"/>
<path d="M340.30,381.38 L340.28,381.80 L340.23,382.23 L340.13,382.65 L340.00,383.07 L339.84,383.49 L339.64,383.90 L339.40,384.31 L339.13,384.71 L338.83,385.10 L338.49,385.48 L338.12,385.86 L337.72,386.23 L337.29,386.58 L336.83,386.93 L336.35,387.26 L335.83,387.58 L335.30,387.89 L334.74,388.18 L334.15,388.46 L333.55,388.72 L332.93,388.97 L332.29,389.20 L331.64,389.42 L330.97,389.62 L330.29,389.80 L329.61,389.96 L328.91,390.11 L328.21,390.24 L327.51,390.36 L326.80,390.45 L326.09,390.53 L325.39,390.59 L324.69,390.63 L323.99,390.65 L323.31,390.66 L322.63,390.65 L321.96,390.62 L321.31,390.57 L320.67,390.51 L320.05,390.44 L319.45,390.35 L318.86,390.24 L318.30,390.12 L317.77,389.98 L317.25,389.83 L316.77,389.67 L316.31,389.50 L315.88,389.32 L315.48,389.12 L315.11,388.92 L314.77,388.70 L314.47,388.48 L314.20,388.25 L313.96,388.02 L313.76,387.78 L313.60,387.53 L313.47,387.28 L313.37,387.03 L313.32,386.78 L313.30,386.52" stroke="#4a4a4a" stroke-width="3.6" fill="none" stroke-linecap="butt"/>
<path d="M340.30,381.38 L340.28,381.80 L340.23,382.23 L340.13,382.65 L340.00,383.07 L339.84,383.49 L339.64,383.90 L339.40,384.31 L339.13,384.71 L338.83,385.10 L338.49,385.48 L338.12,385.86 L337.72,386.23 L337.29,386.58 L336.83,386.93 L336.35,387.26 L335.83,387.58 L335.30,387.89 L334.74,388.18 L334.15,388.46 L333.55,388.72 L332.93,388.97 L332.29,389.20 L331.64,389.42 L330.97,389.62 L330.29,389.80 L329.61,389.96 L328.91,390.11 L328.21,390.24 L327.51,390.36 L326.80,390.45 L326.09,390.53 L325.39,390.59 L324.69,390.63 L323.99,390.65 L323.31,390.66 L322.63,390.65 L321.96,390.62 L321.31,390.57 L320.67,390.51 L320.05,390.44 L319.45,390.35 L318.86,390.24 L318.30,390.12 L317.77,389.98 L317.25,389.83 L316.77,389.67 L316.31,389.50 L315.88,389.32 L315.48,389.12 L315.11,388.92 L314.77,388.70 L314.47,388.48 L314.20,388.25 L313.96,388.02 L313.76,387.78 L313.60,387.53 L313.47,387.28 L313.37,387.03 L313.32,386.78 L313.30,386.52" stroke="#fff" stroke-width="1.7" fill="none" stroke-linecap="butt"/>
<path d="M340.30,391.68 L340.28,392.10 L340.23,392.53 L340.13,392.95 L340.00,393.37 L339.84,393.79 L339.64,394.20 L339.40,394.61 L339.13,395.01 L338.83,395.40 L338.49,395.78 L338.12,396.16 L337.72,396.53 L337.29,396.88 L336.83,397.23 L336.35,397.56 L335.83,397.88 L335.30,398.19 L334.74,398.48 L334.15,398.76 L333.55,399.02 L332.93,399.27 L332.29,399.50 L331.64,399.72 L330.97,399.92 L330.29,400.10 L329.61,400.26 L328.91,400.41 L328.21,400.54 L327.51,400.66 L326.80,400.75 L326.09,400.83 L325.39,400.89 L324.69,400.93 L323.99,400.95 L323.31,400.96 L322.63,400.95 L321.96,400.92 L321.31,400.87 L320.67,400.81 L320.05,400.74 L319.45,400.65 L318.86,400.54 L318.30,400.42 L317.77,400.28 L317.25,400.13 L316.77,399.97 L316.31,399.80 L315.88,399.62 L315.48,399.42 L315.11,399.22 L314.77,399.00 L314.47,398.78 L314.20,398.55 L313.96,398.32 L313.76,398.08 L313.60,397.83 L313.47,397.58 L313.37,397.33 L313.32,397.08 L313.30,396.82" stroke="#4a4a4a" stroke-width="3.6" fill="none" stroke-linecap="butt"/>
<path d="M340.30,391.68 L340.28,392.10 L340.23,392.53 L340.13,392.95 L340.00,393.37 L339.84,393.79 L339.64,394.20 L339.40,394.61 L339.13,395.01 L338.83,395.40 L338.49,395.78 L338.12,396.16 L337.72,396.53 L337.29,396.88 L336.83,397.23 L336.35,397.56 L335.83,397.88 L335.30,398.19 L334.74,398.48 L334.15,398.76 L333.55,399.02 L332.93,399.27 L332.29,399.50 L331.64,399.72 L330.97,399.92 L330.29,400.10 L329.61,400.26 L328.91,400.41 L328.21,400.54 L327.51,400.66 L326.80,400.75 L326.09,400.83 L325.39,400.89 L324.69,400.93 L323.99,400.95 L323.31,400.96 L322.63,400.95 L321.96,400.92 L321.31,400.87 L320.67,400.81 L320.05,400.74 L319.45,400.65 L318.86,400.54 L318.30,400.42 L317.77,400.28 L317.25,400.13 L316.77,399.97 L316.31,399.80 L315.88,399.62 L315.48,399.42 L315.11,399.22 L314.77,399.00 L314.47,398.78 L314.20,398.55 L313.96,398.32 L313.76,398.08 L313.60,397.83 L313.47,397.58 L313.37,397.33 L313.32,397.08 L313.30,396.82" stroke="#fff" stroke-width="1.7" fill="none" stroke-linecap="butt"/>
<ellipse cx="327.3" cy="442.0" rx="15.7" ry="8.9" stroke="#3a3a3a" stroke-width="1.5" fill="#fff"/>
<ellipse cx="327.3" cy="442.2" rx="11.3" ry="6.3" stroke="#3a3a3a" stroke-width="1.5" fill="#fff"/>
<ellipse cx="327.3" cy="465.3" rx="15.7" ry="8.9" stroke="#3a3a3a" stroke-width="1.5" fill="#fff"/>
<ellipse cx="327.3" cy="465.5" rx="11.3" ry="6.3" stroke="#3a3a3a" stroke-width="1.5" fill="#fff"/>
<line x1="327.6" y1="436" x2="327.6" y2="448" stroke="#666" stroke-width="0.7"/>
<line x1="327.6" y1="459" x2="327.6" y2="471" stroke="#666" stroke-width="0.7"/>
<path d="M312.3,490.5 L312.3,496.8 C314,501.5 320,503 327.6,503 C335,503 341,501.5 342.9,496.8 L342.9,490.5 Z" stroke="#2a2a2a" stroke-width="1.1" fill="#fff" />
<path d="M312.6,494.2 C314.5,499.6 320,501 327.6,501 C335,501 340.8,499.6 342.6,494.2" stroke="#333" stroke-width="3.8" fill="none" stroke-dasharray="1.0,0.55"/>
<path d="M312.3,492.3 C314,497.2 320,498.4 327.6,498.4 C335,498.4 341,497.2 342.9,492.3" stroke="#2a2a2a" stroke-width="1.0" fill="none" />
<ellipse cx="327.6" cy="490.4" rx="15.3" ry="4.6" stroke="#2a2a2a" stroke-width="1.2" fill="#fff"/>
<path d="M316.5,485.6 L316.5,490.2 Q320,494.2 327.2,494.2 Q334.5,494.2 338,490.2 L338,485.6" stroke="#333" stroke-width="1.1" fill="#fff" />
<ellipse cx="327.2" cy="485.4" rx="10.8" ry="4.9" stroke="#2a2a2a" stroke-width="1.4" fill="#fff"/>
<ellipse cx="327.2" cy="486.4" rx="9.0" ry="3.6" stroke="#666" stroke-width="0.9" fill="none"/>
<line x1="327.6" y1="481" x2="327.6" y2="490" stroke="#888" stroke-width="0.7"/>
<path d="M312.5,519.2 L312.5,522 L323.5,528.8 L338.4,527.3 L342.7,518.7 L343.2,515.3 L339.8,523 L323.5,525.4 Z" stroke="#444" stroke-width="1.0" fill="#fff" />
<path d="M312.5,519.2 L318.2,511 L333.6,509 L343.2,515.3 L339.8,523 L323.5,525.4 Z" stroke="#333" stroke-width="1.1" fill="#fff" />
<line x1="323.5" y1="525.4" x2="323.5" y2="528.8" stroke="#555" stroke-width="0.8"/>
<line x1="339.8" y1="523" x2="338.4" y2="527.3" stroke="#555" stroke-width="0.8"/>
<ellipse cx="327.4" cy="516.2" rx="10.5" ry="5.1" stroke="#333" stroke-width="1.3" fill="#fff"/>
<ellipse cx="327.4" cy="517.1" rx="8.6" ry="3.8" stroke="#555" stroke-width="0.9" fill="none"/>
<line x1="327.6" y1="510" x2="327.6" y2="522" stroke="#888" stroke-width="0.7"/>
<path d="M253.8,444.5 L253.8,467.0 L254.60000000000002,468.5 L254.60000000000002,492.5 L253.8,494.0 L253.8,507.5 L252.3,508.0 L252.3,513.0 L256.8,515.8 L264.8,514.7 L266.6,511.0 L266.6,507.0 L264.8,507.5 L264.8,494.0 L264.0,492.5 L264.0,468.5 L264.8,467.0 L264.8,444.5" stroke="#555" stroke-width="0.9" fill="#fff" />
<ellipse cx="259.3" cy="444.5" rx="5.5" ry="2.7" stroke="#3a3a3a" stroke-width="1.1" fill="#fff"/>
<ellipse cx="258.5" cy="444.7" rx="2.2" ry="1.3" stroke="#444" stroke-width="1.0" fill="#ddd"/>
<path d="M258.5,449.5 L264.8,447.2" stroke="#555" stroke-width="1.2" fill="none" />
<path d="M253.8,466.5 Q259.3,469.5 264.8,466.5" stroke="#333" stroke-width="1.4" fill="none" />
<path d="M253.8,494.0 Q259.3,496.0 264.8,494.0 M253.8,495.8 Q259.3,497.8 264.8,495.8" stroke="#888" stroke-width="0.9" fill="none" />
<path d="M252.3,508.0 L256.8,510.5 L264.8,509.7 L266.6,507.0 M256.8,510.5 L256.8,515.8 M264.8,509.7 L264.8,514.7" stroke="#666" stroke-width="0.8" fill="none" />
<path d="M321.2,539.215 L321.2,561.8275000000001 L322.0,563.335 L322.0,587.455 L321.2,588.9625000000001 L321.2,602.5300000000001 L319.7,603.0325 L319.7,608.0575 L324.2,610.8715000000001 L332.2,609.7660000000001 L334.0,606.0475 L334.0,602.0275 L332.2,602.5300000000001 L332.2,588.9625000000001 L331.4,587.455 L331.4,563.335 L332.2,561.8275000000001 L332.2,539.215" stroke="#555" stroke-width="0.9" fill="#fff" />
<ellipse cx="326.7" cy="539.215" rx="5.5" ry="2.7" stroke="#3a3a3a" stroke-width="1.1" fill="#fff"/>
<ellipse cx="325.9" cy="539.416" rx="2.2" ry="1.3" stroke="#444" stroke-width="1.0" fill="#ddd"/>
<path d="M325.9,544.24 L332.2,541.9285000000001" stroke="#555" stroke-width="1.2" fill="none" />
<path d="M321.2,561.325 Q326.7,564.34 332.2,561.325" stroke="#333" stroke-width="1.4" fill="none" />
<path d="M321.2,588.9625000000001 Q326.7,590.9725000000001 332.2,588.9625000000001 M321.2,590.7715000000001 Q326.7,592.7815 332.2,590.7715000000001" stroke="#888" stroke-width="0.9" fill="none" />
<path d="M319.7,603.0325 L324.2,605.5450000000001 L332.2,604.741 L334.0,602.0275 M324.2,605.5450000000001 L324.2,610.8715000000001 M332.2,604.741 L332.2,609.7660000000001" stroke="#666" stroke-width="0.8" fill="none" />
<path d="M125.2,308.5 L125.6,313.6 L124.6,314.5 L125.6,315.5 L125.3,320" stroke="#222" stroke-width="1.6" fill="none" />
<path d="M124.2,396.5 L127.2,398.6 L124.2,400.7" stroke="#777" stroke-width="1.1" fill="none" />
<path d="M126,432.8 L125.5,438.5 L124.5,440.5 L127.5,440.8 L126.2,443.6" stroke="#222" stroke-width="1.8" fill="none" />
<line x1="124.3" y1="449.3" x2="125.3" y2="449.3" stroke="#333" stroke-width="1.2"/>
<line x1="124.2" y1="456.8" x2="127.8" y2="456.8" stroke="#333" stroke-width="1.2"/>
<line x1="124.8" y1="463.3" x2="125.6" y2="463.3" stroke="#333" stroke-width="1.2"/>
<line x1="124.2" y1="470.7" x2="127.8" y2="470.7" stroke="#333" stroke-width="1.2"/>
<line x1="124.8" y1="478.1" x2="125.6" y2="478.1" stroke="#333" stroke-width="1.2"/>
<line x1="124.2" y1="485" x2="127.8" y2="485" stroke="#333" stroke-width="1.2"/>
</svg></body></html>
